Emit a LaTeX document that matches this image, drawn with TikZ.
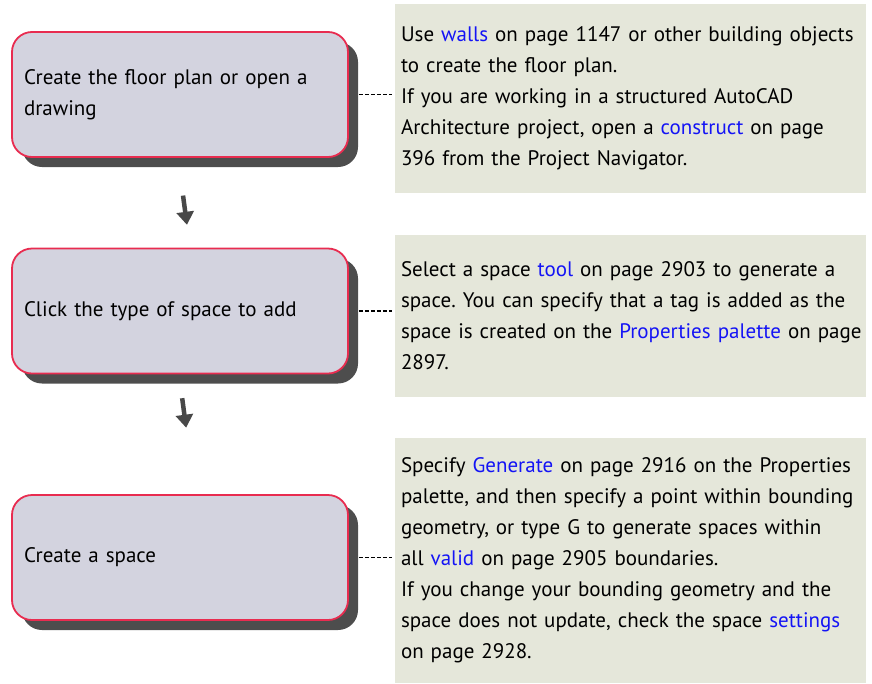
\documentclass[tikz,border=0pt]{standalone}
\usepackage{fontspec}
\setmainfont{PT Sans}
\usetikzlibrary{shadows,arrows.meta}

\definecolor{boxfill}{RGB}{211,211,223}
\definecolor{boxline}{RGB}{232,44,80}
\definecolor{shadowgray}{RGB}{77,77,77}
\definecolor{notefill}{RGB}{229,231,218}
\definecolor{linkblue}{RGB}{20,20,245}
\definecolor{arrowgray}{RGB}{72,72,72}

\newcommand{\lnk}[1]{\textcolor{linkblue}{#1}}
\frenchspacing

\begin{document}
\begin{tikzpicture}[x=1pt,y=-1pt]
	\tikzstyle{every node}=[font=\fontsize{21pt}{31pt}\selectfont]
	\tikzstyle{taskbox}=[draw=boxline, line width=1.8pt, fill=boxfill, rounded corners=20pt,
		minimum width=336pt, minimum height=125pt, text width=312pt, inner xsep=12pt, align=left,
		drop shadow={shadow xshift=10pt, shadow yshift=-10pt, fill=shadowgray, opacity=1}]
	\tikzstyle{notebox}=[fill=notefill, minimum width=471pt, text width=459pt, inner xsep=6pt,
		inner ysep=0pt, align=left]
	\tikzstyle{notelink}=[dash pattern=on 4pt off 2pt, line width=1.1pt]
	\tikzstyle{flowarrow}=[draw=arrowgray, line width=4.5pt, -{Triangle[width=17pt,length=13pt]}]
	
	\useasboundingbox (0,0) rectangle (872,683);
	
	% steps
	\node [taskbox] (create) at (180,94.5) {Create the floor plan or open a\\drawing};
	\node [taskbox] (pick) at (180,311) {Click the type of space to add};
	\node [taskbox] (space) at (180,557.5) {Create a space};
	
	% notes
	\node [notebox, minimum height=189pt] (createnote) at (630.5,98.5) {%
		Use \lnk{walls} on page 1147 or other building objects\\
		to create the floor plan.\\
		If you are working in a structured AutoCAD\\
		Architecture project, open a \lnk{construct} on page\\
		396 from the Project Navigator.};
	\node [notebox, minimum height=162pt] (picknote) at (630.5,316) {%
		Select a space \lnk{tool} on page 2903 to generate a\\
		space. You can specify that a tag is added as the\\
		\mbox{space is created on the \lnk{Properties palette} on page}\\
		2897.};
	\node [notebox, minimum height=245pt] (spacenote) at (630.5,560.5) {%
		Specify \lnk{Generate} on page 2916 on the Properties\\
		palette, and then specify a point within bounding\\
		geometry, or type G to generate spaces within\\
		all \lnk{valid} on page 2905 boundaries.\\
		If you change your bounding geometry and the\\
		space does not update, check the space \lnk{settings}\\
		on page 2928.};
	
	\draw [notelink, shorten <=10pt, shorten >=3pt] (create.east) -- (create.east -| createnote.west);
	\draw [notelink, shorten <=10pt, shorten >=3pt] (pick.east) -- (pick.east -| picknote.west);
	\draw [notelink, shorten <=10pt, shorten >=3pt] (space.east) -- (space.east -| spacenote.west);
	
	\draw [flowarrow, shorten <=38pt, shorten >=23pt] ([xshift=-2pt]create.south) -- ([xshift=10pt]pick.north);
	\draw [flowarrow, shorten <=24pt, shorten >=67pt] ([xshift=-1pt]pick.south) -- ([xshift=15pt]space.north);
	
\end{tikzpicture}
\end{document}
